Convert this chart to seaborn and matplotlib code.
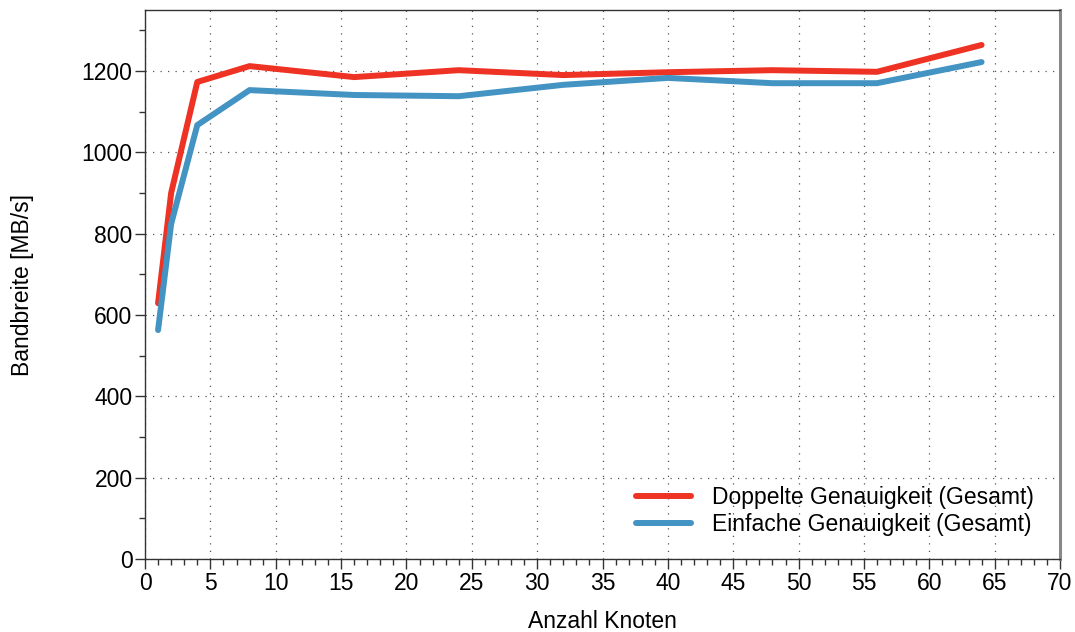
import numpy as np
import pandas as pd
import matplotlib
matplotlib.use("Agg")
import matplotlib.pyplot as plt
import seaborn as sns
from matplotlib.ticker import MultipleLocator

knoten = [1, 2, 4, 8, 16, 24, 32, 40, 48, 56, 64]
doppelt = [629, 900, 1173, 1212, 1185, 1202, 1190, 1197, 1202, 1198, 1264]
einfach = [563, 824, 1067, 1153, 1141, 1138, 1166, 1183, 1170, 1170, 1222]
series_names = ["Doppelte Genauigkeit (Gesamt)", "Einfache Genauigkeit (Gesamt)"]
colors = ["#EE3224", "#4393C3"]

df = pd.DataFrame({
    "Anzahl Knoten": knoten * 2,
    "Bandbreite": doppelt + einfach,
    "Serie": [series_names[0]] * len(knoten) + [series_names[1]] * len(knoten),
})

sns.set_theme(style="white")
plt.rcParams["font.family"] = ["Liberation Sans", "DejaVu Sans"]
plt.rcParams["text.color"] = "black"
plt.rcParams["axes.labelcolor"] = "black"

fs = 16.5
fig = plt.figure(figsize=(10.75, 6.32), dpi=100)
ax = fig.add_axes([145/1075, 1 - 559/632, (1060-145)/1075, (559-10)/632])

sns.lineplot(data=df, x="Anzahl Knoten", y="Bandbreite", hue="Serie",
             palette=colors, linewidth=4.3, ax=ax, estimator=None)

ax.set_xlim(0, 70)
ax.set_ylim(0, 1350)
ax.xaxis.set_major_locator(MultipleLocator(5))
ax.xaxis.set_minor_locator(MultipleLocator(1))
ax.yaxis.set_major_locator(MultipleLocator(200))
ax.yaxis.set_minor_locator(MultipleLocator(100))
ax.tick_params(axis="both", which="major", direction="out", length=7, width=1,
               color="#333333", labelsize=fs, labelcolor="black", pad=2,
               bottom=True, left=True)
ax.tick_params(axis="both", which="minor", direction="out", length=4, width=1,
               color="#333333", bottom=True, left=True)
ax.grid(True, which="major", linestyle=(0, (1, 5)), color="#555555", linewidth=0.9)

for side in ["top", "left", "bottom"]:
    ax.spines[side].set_color("#333333")
    ax.spines[side].set_linewidth(1.0)
ax.spines["right"].set_color("#888888")
ax.spines["right"].set_linewidth(2.2)

ax.set_xlabel("Anzahl Knoten", fontsize=fs, labelpad=11)
ax.set_ylabel("Bandbreite [MB/s]", fontsize=fs, labelpad=34)

ax.legend(loc="lower right", frameon=False, fontsize=fs, handlelength=2.4,
          handletextpad=0.9, labelspacing=0.2, bbox_to_anchor=(0.994, 0.004),
          title=None)

fig.savefig("out.png", dpi=100)
